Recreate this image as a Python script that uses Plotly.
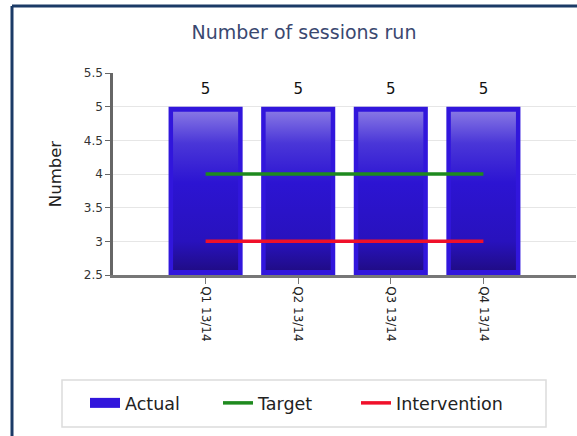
import plotly.graph_objects as go

categories = ["Q1 13/14", "Q2 13/14", "Q3 13/14", "Q4 13/14"]
actual = [5, 5, 5, 5]
target = [4, 4, 4, 4]
intervention = [3, 3, 3, 3]

W, H = 577, 436
ML, MR, MT, MB = 113, 1, 73, 161
pw = W - ML - MR
ph = H - MT - MB
YMIN, YMAX = 2.5, 5.5
BAR_W = 0.8

def px(x):
    return (x - ML) / pw

def py(y):
    return (H - MB - y) / ph

font = "DejaVu Sans"
xs = list(range(len(categories)))
BAR_COLOR = "#3116dc"

fig = go.Figure()
fig.add_trace(go.Bar(
    x=xs, y=actual, name="Actual", width=BAR_W,
    marker=dict(color=BAR_COLOR, line=dict(width=0)),
    hoverinfo="skip", showlegend=False,
))
# gradient inset on each bar
bx = 4.5 / (pw / 5)
by = 5.0 / (ph / (YMAX - YMIN))
for xi, v in zip(xs, actual):
    x0, x1 = xi - BAR_W / 2 + bx, xi + BAR_W / 2 - bx
    y0, y1 = YMIN + by, v - by
    fig.add_trace(go.Scatter(
        x=[x0, x1, x1, x0, x0], y=[y0, y0, y1, y1, y0],
        mode="lines", line=dict(width=0), fill="toself",
        fillgradient=dict(type="vertical",
                          colorscale=[[0, "#200c88"], [0.18, "#2812bd"], [0.55, "#2c14d2"],
                                      [0.8, "#4a36d8"], [1, "#8676e4"]]),
        showlegend=False, hoverinfo="skip",
    ))
# value labels
fig.add_trace(go.Scatter(
    x=xs, y=actual, mode="markers+text", text=[str(v) for v in actual],
    textposition="top center", marker=dict(size=13, color="rgba(0,0,0,0)"),
    textfont=dict(size=15, color="#111", family=font),
    showlegend=False, hoverinfo="skip", cliponaxis=False,
))
fig.add_trace(go.Scatter(
    x=xs, y=target, name="Target", mode="lines",
    line=dict(color="#1e8a1e", width=3.5), legend="legend2",
))
fig.add_trace(go.Scatter(
    x=xs, y=intervention, name="Intervention", mode="lines",
    line=dict(color="#f0102a", width=3.5), legend="legend3",
))
# legend swatch for the bars
fig.add_trace(go.Scatter(
    x=[None], y=[None], name="Actual", mode="lines",
    line=dict(color=BAR_COLOR, width=15), legend="legend",
))

# frame
fig.add_shape(type="line", xref="paper", yref="paper",
              x0=px(12), x1=px(12), y0=py(6), y1=py(450),
              line=dict(color="#1b3a66", width=3))
fig.add_shape(type="line", xref="paper", yref="paper",
              x0=px(12), x1=px(600), y0=py(6), y1=py(6),
              line=dict(color="#1b3a66", width=3))
# legend box
fig.add_shape(type="rect", xref="paper", yref="paper",
              x0=px(62), x1=px(546), y0=py(427), y1=py(380),
              line=dict(color="#dcdcdc", width=1.5), fillcolor="white", layer="below")

leg_common = dict(orientation="h", xanchor="left", yanchor="middle", y=py(403),
                  bgcolor="rgba(0,0,0,0)", borderwidth=0,
                  font=dict(size=17.5, color="#222", family=font))

fig.update_layout(
    width=W, height=H,
    margin=dict(l=ML, r=MR, t=MT, b=MB),
    paper_bgcolor="white", plot_bgcolor="white",
    font=dict(family=font, color="#222"),
    title=dict(text="Number of sessions run", xref="container", x=304 / W, xanchor="center",
               yref="container", y=1 - 32 / H, yanchor="middle",
               font=dict(size=19, color="#3a4870", family=font)),
    showlegend=True,
    legend=dict(x=px(85), **leg_common),
    legend2=dict(x=px(218), **leg_common),
    legend3=dict(x=px(356), **leg_common),
    bargap=0.2,
)
fig.update_xaxes(
    range=[-1, 4], tickmode="array", tickvals=xs, ticktext=categories,
    tickangle=90, showgrid=False, zeroline=False,
    showline=True, linecolor="#777", linewidth=2.5,
    ticks="outside", ticklen=6, tickcolor="#777",
    tickfont=dict(size=12, color="#222", family=font),
)
fig.update_yaxes(
    range=[YMIN, YMAX], dtick=0.5, showgrid=True, gridcolor="#e6e6e6",
    showline=True, linecolor="#666", linewidth=2.5,
    ticks="outside", ticklen=5, tickcolor="#666",
    tickfont=dict(size=12, color="#333", family=font),
    title=dict(text="Number", font=dict(size=16.5, color="#222", family=font), standoff=18),
    zeroline=False,
)

fig.write_html("out.html", config={"displayModeBar": False},
               post_script="document.body.style.margin='0';")
